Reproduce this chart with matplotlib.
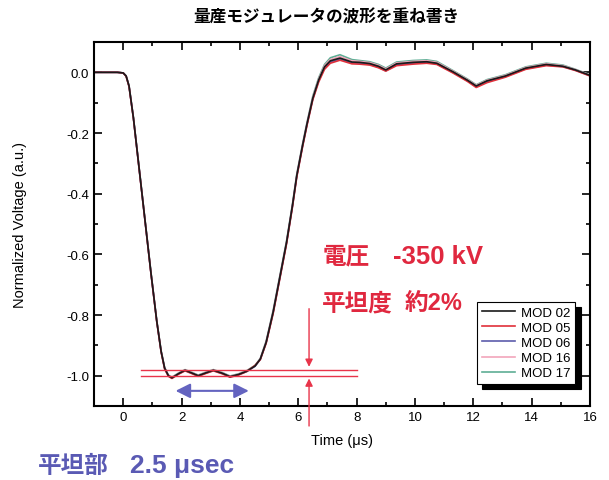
from matplotlib import pyplot
from matplotlib.ticker import MultipleLocator

pyplot.rcParams["font.family"] = ["Liberation Sans", "DejaVu Sans"]
jp_font = ["Liberation Sans", "Noto Sans CJK JP", "DejaVu Sans"]

time_us = [
    -1.0, -0.2, 0.0, 0.1, 0.2, 0.35, 0.55, 0.75, 0.95, 1.15,
    1.3, 1.42, 1.55, 1.67, 1.9, 2.12, 2.35, 2.57, 2.85, 3.09,
    3.4, 3.66, 3.95, 4.24, 4.52, 4.7, 4.9, 5.14, 5.4, 5.6,
    5.8, 5.95, 6.15, 6.3, 6.5, 6.7, 6.9, 7.1, 7.43, 7.84,
    8.1, 8.45, 8.75, 9.0, 9.37, 9.93, 10.4, 10.75, 11.3, 11.8,
    12.1, 12.47, 13.1, 13.8, 14.5, 15.07, 15.5, 16.0,
]
mod_02 = [
    0.0, 0.0, -0.002, -0.012, -0.045, -0.15, -0.32, -0.49, -0.66, -0.82,
    -0.92, -0.975, -1.0, -1.007, -0.993, -0.982, -0.991, -1.0, -0.99, -0.982,
    -0.992, -1.003, -0.996, -0.985, -0.968, -0.945, -0.89, -0.79, -0.66, -0.56,
    -0.44, -0.34, -0.24, -0.17, -0.085, -0.025, 0.018, 0.038, 0.047, 0.034,
    0.033, 0.029, 0.02, 0.008, 0.028, 0.033, 0.035, 0.03, 0.002, -0.026,
    -0.045, -0.028, -0.012, 0.014, 0.026, 0.02, 0.008, -0.01,
]
mod_05 = [
    0.0, 0.0, -0.002, -0.013, -0.047, -0.152, -0.322, -0.492, -0.662, -0.822,
    -0.922, -0.978, -1.002, -1.009, -0.995, -0.984, -0.993, -1.002, -0.992, -0.984,
    -0.994, -1.005, -0.998, -0.986, -0.966, -0.947, -0.893, -0.795, -0.665, -0.565,
    -0.445, -0.345, -0.245, -0.175, -0.09, -0.032, 0.01, 0.03, 0.04, 0.028,
    0.027, 0.024, 0.015, 0.004, 0.022, 0.027, 0.03, 0.026, -0.002, -0.03,
    -0.05, -0.034, -0.016, 0.01, 0.022, 0.018, 0.006, -0.012,
]
mod_06 = [
    0.0, 0.0, -0.002, -0.012, -0.046, -0.151, -0.321, -0.491, -0.661, -0.821,
    -0.921, -0.976, -1.001, -1.008, -0.994, -0.983, -0.992, -1.001, -0.991, -0.983,
    -0.993, -1.004, -0.997, -0.986, -0.969, -0.946, -0.891, -0.792, -0.662, -0.562,
    -0.442, -0.342, -0.242, -0.172, -0.087, -0.028, 0.014, 0.034, 0.044, 0.031,
    0.03, 0.026, 0.017, 0.005, 0.025, 0.03, 0.033, 0.028, 0.0, -0.028,
    -0.047, -0.03, -0.014, 0.012, 0.024, 0.019, 0.007, -0.011,
]
mod_16 = [
    0.0, 0.0, -0.002, -0.012, -0.045, -0.149, -0.319, -0.489, -0.659, -0.819,
    -0.919, -0.974, -0.999, -1.006, -0.992, -0.981, -0.99, -0.999, -0.989, -0.981,
    -0.991, -1.002, -0.995, -0.984, -0.967, -0.944, -0.888, -0.788, -0.658, -0.558,
    -0.438, -0.338, -0.238, -0.168, -0.082, -0.022, 0.022, 0.042, 0.052, 0.038,
    0.036, 0.032, 0.023, 0.011, 0.031, 0.036, 0.038, 0.033, 0.004, -0.024,
    -0.043, -0.026, -0.01, 0.016, 0.028, 0.022, 0.009, -0.009,
]
mod_17 = [
    0.0, 0.0, -0.002, -0.012, -0.044, -0.148, -0.318, -0.488, -0.658, -0.818,
    -0.918, -0.973, -0.998, -1.005, -0.991, -0.98, -0.989, -0.998, -0.988, -0.98,
    -0.99, -1.001, -0.994, -0.983, -0.966, -0.943, -0.886, -0.785, -0.655, -0.555,
    -0.435, -0.335, -0.235, -0.165, -0.078, -0.018, 0.026, 0.048, 0.058, 0.042,
    0.039, 0.035, 0.026, 0.014, 0.034, 0.039, 0.041, 0.036, 0.006, -0.022,
    -0.041, -0.024, -0.008, 0.018, 0.03, 0.024, 0.01, -0.008,
]
series = [
    ("MOD 02", mod_02, "#1a1a1a"),
    ("MOD 05", mod_05, "#e0303a"),
    ("MOD 06", mod_06, "#5c5cab"),
    ("MOD 16", mod_16, "#f2a6bb"),
    ("MOD 17", mod_17, "#5fae95"),
]
flat_levels = [-0.98, -1.0]

fig = pyplot.figure(figsize=(6.09, 4.81), dpi=100)
ax = fig.add_axes([0.1544, 0.1538, 0.8144, 0.7568])

lines = {}
for label, values, color in series[::-1]:
    (line,) = ax.plot(time_us, values, color=color, lw=1.2, label=label)
    lines[label] = line

# flatness guide lines
for level in flat_levels:
    ax.plot([0.6, 8.0], [level, level], color="#e8344a", lw=1.0)

# flatness arrows
ax.annotate(
    "", xy=(6.37, -0.98), xytext=(6.37, -0.77),
    arrowprops=dict(arrowstyle="-|>", color="#e8344a", lw=1.0, mutation_scale=11),
)
ax.annotate(
    "", xy=(6.37, -1.0), xytext=(6.37, -1.175),
    arrowprops=dict(arrowstyle="-|>", color="#e8344a", lw=1.0, mutation_scale=11),
    annotation_clip=False,
)
# flat top width arrow
ax.annotate(
    "", xy=(1.7, -1.05), xytext=(4.4, -1.05),
    arrowprops=dict(arrowstyle="<|-|>", color="#6464c0", lw=1.5, mutation_scale=22),
)

red = "#e0283f"
ax.text(6.82, -0.605, "電圧", color=red, fontsize=17, fontweight="bold",
        family=jp_font, va="center")
ax.text(9.25, -0.605, "-350 kV", color=red, fontsize=18.5, fontweight="bold",
        family=jp_font, va="center")
ax.text(6.82, -0.76, "平坦度", color=red, fontsize=17, fontweight="bold",
        family=jp_font, va="center")
ax.text(9.66, -0.76, "約2%", color=red, fontsize=17, fontweight="bold",
        family=jp_font, va="center")
fig.text(0.062, 0.031, "平坦部", color="#5a5ab4", fontsize=17,
         fontweight="bold", family=jp_font, va="center")
fig.text(0.2135, 0.031, "2.5 μsec", color="#5a5ab4", fontsize=19,
         fontweight="bold", family=jp_font, va="center")
fig.text(
    0.535, 0.963, "量産モジュレータの波形を重ね書き", fontsize=12,
    fontweight="bold", family=jp_font, ha="center", va="center",
)

ax.set_xlim(-1, 16)
ax.set_ylim(-1.1, 0.1)
ax.xaxis.set_major_locator(MultipleLocator(2))
ax.xaxis.set_minor_locator(MultipleLocator(1))
ax.yaxis.set_major_locator(MultipleLocator(0.2))
ax.yaxis.set_minor_locator(MultipleLocator(0.1))
ax.yaxis.set_major_formatter(lambda v, pos: f"{v:.1f}".replace("-0.0", "0.0"))
ax.tick_params(which="both", direction="in", top=True, right=True, labelsize=9.5, width=1.2)
ax.tick_params(which="major", length=6)
ax.tick_params(which="minor", length=3)
for spine in ax.spines.values():
    spine.set_linewidth(1.5)
ax.set_xlabel("Time (μs)", fontsize=10.5, labelpad=7)
ax.set_ylabel("Normalized Voltage (a.u.)", fontsize=10.5, labelpad=28)

legend = ax.legend(
    [lines[s[0]] for s in series],
    [s[0] for s in series],
    loc="upper left",
    bbox_to_anchor=(0.772, 0.286),
    fontsize=9.5,
    frameon=True,
    fancybox=False,
    edgecolor="black",
    framealpha=1,
    handlelength=2.5,
    labelspacing=0.22,
    borderpad=0.35,
    handletextpad=0.5,
    borderaxespad=0,
    shadow={"ox": 4, "oy": -4, "color": "black", "alpha": 1},
)
legend.get_frame().set_linewidth(0.8)

pyplot.savefig("out.png", dpi=100)
